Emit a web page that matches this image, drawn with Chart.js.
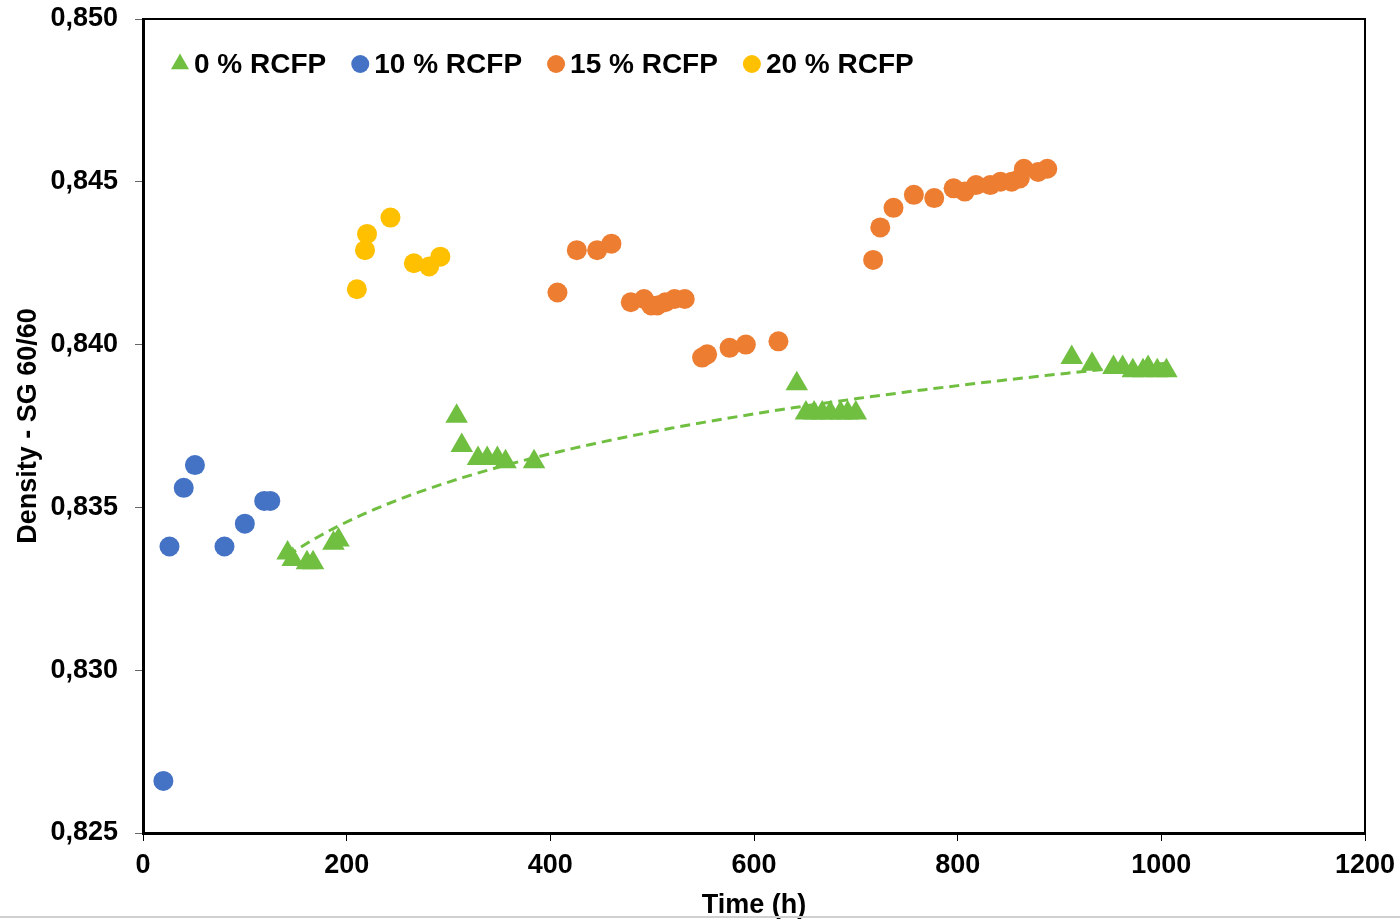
<!DOCTYPE html>
<html>
<head>
<meta charset="utf-8">
<script src="https://cdn.jsdelivr.net/npm/chart.js@4.4.0/dist/chart.umd.min.js"></script>
<style>
  html, body { margin: 0; padding: 0; background: #fff; }
  #wrap { position: relative; width: 1400px; height: 923px; }
  #chart { display: block; }
  #rule { position: absolute; left: 0; top: 916px; width: 1400px; height: 2px; background: #d0d0d0; }
</style>
</head>
<body>
<div id="wrap">
  <canvas id="chart" width="1400" height="923"></canvas>
  <div id="rule"></div>
</div>
<script>
// ============================================
// DATA
// ============================================
const xTicks = [0, 200, 400, 600, 800, 1000, 1200];
const yTicks = [0.825, 0.830, 0.835, 0.840, 0.845, 0.850];

// 0 % RCFP (triangles)
const rcfp0Time = [142, 147, 161, 167, 187, 192, 308, 313, 329, 338, 348, 356, 384,
    642, 651, 659, 667, 675, 685, 692, 700, 912, 932, 953, 962, 972, 982, 987, 996, 1005];
const rcfp0Density = [0.8336, 0.8334, 0.8333, 0.8333, 0.8339, 0.8340, 0.8378, 0.8369, 0.8365, 0.8365, 0.8365, 0.8364, 0.8364,
    0.8388, 0.8379, 0.8379, 0.8379, 0.8379, 0.8379, 0.8379, 0.8379, 0.8396, 0.8394, 0.8393, 0.8393, 0.8392, 0.8392, 0.8393, 0.8392, 0.8392];

// 10 % RCFP
const rcfp10Time = [20, 26, 40, 51, 80, 100, 119, 125];
const rcfp10Density = [0.8266, 0.8338, 0.8356, 0.8363, 0.8338, 0.8345, 0.8352, 0.8352];

// 15 % RCFP
const rcfp15Time = [407, 426, 446, 460, 479, 492, 499, 505, 513, 522, 532, 549, 554, 576, 592, 624,
    717, 724, 737, 757, 777, 796, 807, 818, 832, 842, 853, 861, 865, 879, 888];
const rcfp15Density = [0.8416, 0.8429, 0.8429, 0.8431, 0.8413, 0.8414, 0.8412, 0.8412, 0.8413, 0.8414, 0.8414, 0.8396, 0.8397, 0.8399, 0.8400, 0.8401,
    0.8426, 0.8436, 0.8442, 0.8446, 0.8445, 0.8448, 0.8447, 0.8449, 0.8449, 0.8450, 0.8450, 0.8451, 0.8454, 0.8453, 0.8454];

// 20 % RCFP
const rcfp20Time = [210, 218, 220, 243, 266, 281, 292];
const rcfp20Density = [0.8417, 0.8429, 0.8434, 0.8439, 0.8425, 0.8424, 0.8427];

const GREEN = '#70BF41';
const BLUE = '#4472C4';
const ORANGE = '#ED7D31';
const YELLOW = '#FFC000';
const FONT = '"Liberation Sans", Arial, sans-serif';

function toPoints(xs, ys) {
    return xs.map((x, i) => ({ x: x, y: ys[i] }));
}

// Logarithmic trendline (least squares on ln x), like the spreadsheet one
function logTrend(xs, ys, steps) {
    const n = xs.length;
    let sx = 0, sy = 0, sxx = 0, sxy = 0;
    for (let i = 0; i < n; i++) {
        const lx = Math.log(xs[i]);
        sx += lx; sy += ys[i]; sxx += lx * lx; sxy += lx * ys[i];
    }
    const b = (n * sxy - sx * sy) / (n * sxx - sx * sx);
    const a = (sy - b * sx) / n;
    const x0 = Math.min(...xs), x1 = Math.max(...xs);
    const pts = [];
    for (let k = 0; k <= steps; k++) {
        const x = x0 + (x1 - x0) * k / steps;
        pts.push({ x: x, y: a + b * Math.log(x) });
    }
    return pts;
}

// ============================================
// PLUGINS
// ============================================
// frame round the plot area (top and right sides)
const framePlugin = {
    id: 'frame',
    afterDraw(chart) {
        const { ctx, chartArea: a } = chart;
        ctx.save();
        ctx.strokeStyle = '#000';
        ctx.lineWidth = 2;
        ctx.beginPath();
        ctx.moveTo(a.left, a.top);
        ctx.lineTo(a.right, a.top);
        ctx.lineTo(a.right, a.bottom);
        ctx.stroke();
        ctx.restore();
    }
};

// legend drawn inside the plot, top-left
const insideLegend = {
    id: 'insideLegend',
    afterDraw(chart) {
        const ctx = chart.ctx;
        const y = 64;
        let x = 180;
        ctx.save();
        ctx.font = 'bold 28px ' + FONT;
        ctx.textBaseline = 'middle';
        ctx.textAlign = 'left';
        chart.data.datasets.forEach(ds => {
            if (ds.isTrend) return;
            ctx.fillStyle = ds.backgroundColor;
            ctx.beginPath();
            if (ds.pointStyle === 'triangle') {
                const r = 10.4;
                ctx.moveTo(x, y - r);
                ctx.lineTo(x + r * Math.sin(2 * Math.PI / 3), y + r / 2);
                ctx.lineTo(x - r * Math.sin(2 * Math.PI / 3), y + r / 2);
                ctx.closePath();
            } else {
                ctx.arc(x, y, 9, 0, Math.PI * 2);
            }
            ctx.fill();
            const tx = x + 14;
            ctx.fillStyle = '#000';
            ctx.fillText(ds.label, tx, y + 1);
            x = tx + ctx.measureText(ds.label).width + 34;
        });
        ctx.restore();
    }
};

// ============================================
// CHART
// ============================================
const ctx = document.getElementById('chart');

const chart = new Chart(ctx.getContext('2d'), {
    type: 'scatter',
    data: {
        datasets: [
            {
                label: '0 % RCFP',
                data: toPoints(rcfp0Time, rcfp0Density),
                pointStyle: 'triangle',
                pointRadius: 13,
                backgroundColor: GREEN,
                borderColor: GREEN,
                borderWidth: 0
            },
            {
                label: '10 % RCFP',
                data: toPoints(rcfp10Time, rcfp10Density),
                pointStyle: 'circle',
                pointRadius: 10,
                backgroundColor: BLUE,
                borderColor: BLUE,
                borderWidth: 0
            },
            {
                label: '15 % RCFP',
                data: toPoints(rcfp15Time, rcfp15Density),
                pointStyle: 'circle',
                pointRadius: 10,
                backgroundColor: ORANGE,
                borderColor: ORANGE,
                borderWidth: 0
            },
            {
                label: '20 % RCFP',
                data: toPoints(rcfp20Time, rcfp20Density),
                pointStyle: 'circle',
                pointRadius: 10,
                backgroundColor: YELLOW,
                borderColor: YELLOW,
                borderWidth: 0
            },
            {
                label: 'trend',
                isTrend: true,
                type: 'line',
                data: logTrend(rcfp0Time, rcfp0Density, 80),
                borderColor: GREEN,
                backgroundColor: GREEN,
                borderWidth: 3,
                borderDash: [10, 6],
                pointRadius: 0,
                fill: false,
                tension: 0
            }
        ]
    },
    options: {
        responsive: false,
        animation: false,
        devicePixelRatio: 1,
        layout: {
            padding: { top: 19, right: 35, left: 0, bottom: 0 }
        },
        plugins: {
            legend: { display: false },
            tooltip: { enabled: false }
        },
        scales: {
            x: {
                type: 'linear',
                min: 0,
                max: 1200,
                afterBuildTicks: s => { s.ticks = xTicks.map(v => ({ value: v })); },
                afterFit: s => {
                    s.height = 90;
                    s.paddingLeft = 0;
                    s.paddingRight = 0;
                },
                ticks: {
                    color: '#000',
                    font: { family: FONT, size: 27, weight: 'bold' },
                    padding: 8,
                    maxRotation: 0,
                    autoSkip: false,
                    callback: v => String(v)
                },
                grid: {
                    drawOnChartArea: false,
                    drawTicks: true,
                    tickLength: 8,
                    color: '#000',
                    lineWidth: 1
                },
                border: { display: true, color: '#000', width: 3 },
                title: {
                    display: true,
                    text: 'Time (h)',
                    color: '#000',
                    font: { family: FONT, size: 27, weight: 'bold' },
                    padding: { top: 0, bottom: 1 }
                }
            },
            y: {
                type: 'linear',
                min: 0.825,
                max: 0.850,
                afterBuildTicks: s => { s.ticks = yTicks.map(v => ({ value: v })); },
                afterFit: s => {
                    s.width = 143;
                    s.paddingTop = 0;
                    s.paddingBottom = 0;
                },
                ticks: {
                    color: '#000',
                    font: { family: FONT, size: 27, weight: 'bold' },
                    padding: 17,
                    autoSkip: false,
                    callback: v => v.toFixed(3).replace('.', ',')
                },
                grid: {
                    drawOnChartArea: false,
                    drawTicks: true,
                    tickLength: 8,
                    color: '#666',
                    lineWidth: 1
                },
                border: { display: true, color: '#000', width: 3 },
                title: {
                    display: true,
                    text: 'Density - SG 60/60',
                    color: '#000',
                    font: { family: FONT, size: 27, weight: 'bold' },
                    padding: { top: 12, bottom: 0 }
                }
            }
        }
    },
    plugins: [framePlugin, insideLegend]
});
</script>
</body>
</html>
